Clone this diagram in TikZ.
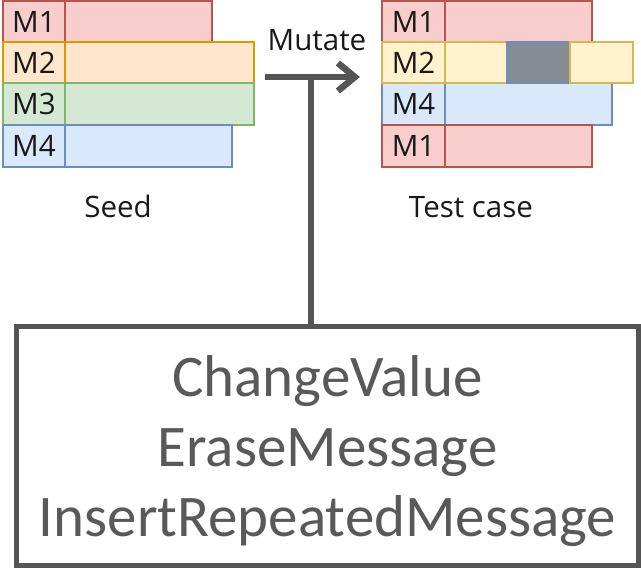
\documentclass[tikz,border=0pt]{standalone}
\usepackage{fontspec}
\setmainfont{Open Sans}
\newfontfamily\opsfont{Carlito}
\usetikzlibrary{arrows.meta}

\definecolor{redfill}{HTML}{F8CECC}\definecolor{redline}{HTML}{B85450}
\definecolor{orgfill}{HTML}{FFE6CC}\definecolor{orgline}{HTML}{D79B00}
\definecolor{grnfill}{HTML}{D5E8D4}\definecolor{grnline}{HTML}{82B366}
\definecolor{blufill}{HTML}{DAE8FC}\definecolor{bluline}{HTML}{6C8EBF}
\definecolor{yelfill}{HTML}{FFF2CC}\definecolor{yelline}{HTML}{D6B656}
\definecolor{mutfill}{HTML}{858B94}
\definecolor{darkline}{HTML}{555555}
\definecolor{opstext}{HTML}{595959}

\begin{document}
\begin{tikzpicture}[x=1pt,y=-1pt,
  cell/.style={line width=2pt},
  redc/.style={cell,fill=redfill,draw=redline},
  orgc/.style={cell,fill=orgfill,draw=orgline},
  grnc/.style={cell,fill=grnfill,draw=grnline},
  bluc/.style={cell,fill=blufill,draw=bluline},
  yelc/.style={cell,fill=yelfill,draw=yelline},
  mutc/.style={cell,fill=mutfill,draw=bluline},
  msg/.style={font=\fontsize{29.5}{34}\selectfont,text=black!90,inner sep=0pt},
  caption/.style={font=\fontsize{29.5}{34}\selectfont,text=black!90,inner sep=0pt,anchor=base},
  link/.style={draw=darkline,line width=6.5pt}
]
\useasboundingbox (0,0) rectangle (641,569);

% Seed: four messages
\draw[redc] (3,1) rectangle (65,42);    \draw[redc] (65,1) rectangle (212,42);
\draw[orgc] (3,42) rectangle (65,83);   \draw[orgc] (65,42) rectangle (254,83);
\draw[grnc] (3,83) rectangle (65,125);  \draw[grnc] (65,83) rectangle (254,125);
\draw[bluc] (3,125) rectangle (65,167); \draw[bluc] (65,125) rectangle (232,167);
\node[msg] (s1) at (34,21.5) {M1};
\node[msg] (s2) at (34,62.5) {M2};
\node[msg] (s3) at (34,104) {M3};
\node[msg] (s4) at (34,146) {M4};

% Test case: mutated sequence
\draw[redc] (382,1) rectangle (445,42);    \draw[redc] (445,1) rectangle (592,42);
\draw[bluc] (382,83) rectangle (445,125);  \draw[bluc] (445,83) rectangle (612,125);
\draw[yelc] (382,42) rectangle (445,83);   \draw[yelc] (445,42) rectangle (507,83);
\draw[mutc] (507,42) rectangle (570,83);   \draw[yelc] (570,42) rectangle (633,83);
\draw[redc] (382,125) rectangle (445,167); \draw[redc] (445,125) rectangle (592,167);
\node[msg] (t1) at (413.5,21.5) {M1};
\node[msg] (t2) at (413.5,62.5) {M2};
\node[msg] (t3) at (413.5,104) {M4};
\node[msg] (t4) at (413.5,146) {M1};

% Captions
\node[caption] (seed) at (118,218) {Seed};
\node[caption] (test) at (471,218) {Test case};
\node[caption] (mut)  at (317,51) {Mutate};

% Mutation operators
\node[draw=darkline,line width=5pt,minimum width=622pt,minimum height=239pt,
      inner sep=0pt] (ops) at (327.5,446) {};
\node[align=center,text=opstext,inner sep=0pt,
      font=\opsfont\fontsize{59}{70}\selectfont] (opnames) at (327.5,451)
  {ChangeValue\\EraseMessage\\InsertRepeatedMessage};

% Connector from the operators to the mutation arrow
\coordinate (from) at (265,77);
\coordinate (to) at (360,77);
\coordinate (join) at (311,77);
\draw[link,-{Straight Barb[length=17pt,width=28pt]}] (from) -- (to);
\draw[link] (join) -- (join |- ops.north);
\end{tikzpicture}
\end{document}
